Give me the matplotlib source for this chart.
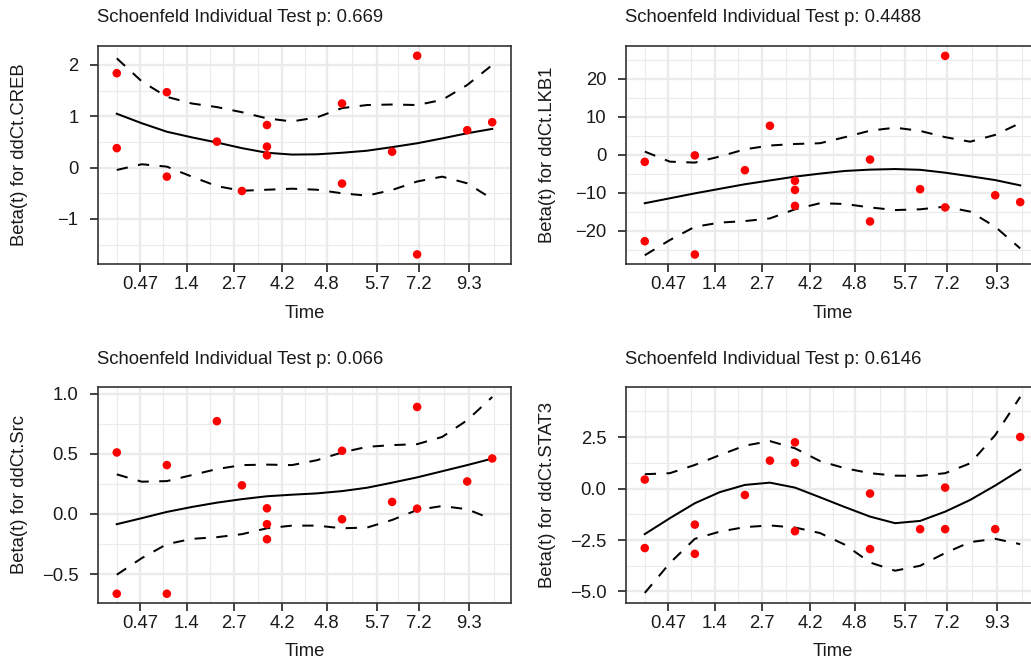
import matplotlib
matplotlib.use("Agg")
import matplotlib.pyplot as plt
from matplotlib.ticker import FixedLocator, FixedFormatter

plt.rcParams['font.family'] = ['Liberation Sans', 'DejaVu Sans']

# transformed event times (shared by all panels) and their labels
time_ticks = [1.94, 3.79, 5.69, 7.62, 9.39, 11.41, 13.07, 15.06]
time_labels = ['0.47', '1.4', '2.7', '4.2', '4.8', '5.7', '7.2', '9.3']
time_minor = [1.015, 2.865, 4.74, 6.655, 8.505, 10.4, 12.24, 14.065, 16.055]
pt_time = [1, 1, 3, 3, 5, 6, 7, 7, 7, 10, 10, 12, 13, 13, 15, 16]
fit_time = list(range(1, 17))

# ddCt.CREB
creb_pts = [1.84, 0.38, 1.47, -0.175, 0.507, -0.455, 0.83, 0.41, 0.24,
            1.25, -0.31, 0.31, 2.18, -1.69, 0.73, 0.885]
creb_fit = [1.05, 0.865, 0.70, 0.59, 0.49, 0.38, 0.29, 0.255, 0.26, 0.29,
            0.33, 0.40, 0.475, 0.57, 0.67, 0.755]
creb_hi = [2.13, 1.68, 1.38, 1.25, 1.18, 1.08, 0.96, 0.90, 0.98, 1.16,
           1.22, 1.23, 1.22, 1.32, 1.61, 2.0]
creb_lo = [-0.045, 0.066, 0.02, -0.175, -0.36, -0.45, -0.43, -0.41, -0.43,
           -0.5, -0.545, -0.435, -0.27, -0.175, -0.305, -0.61]

# ddCt.LKB1
lkb1_pts = [-1.9, -22.8, -0.2, -26.3, -4.1, 7.6, -6.9, -9.3, -13.5,
            -1.3, -17.6, -9.1, 26.0, -13.9, -10.7, -12.5]
lkb1_fit = [-12.8, -11.5, -10.2, -9.0, -7.8, -6.8, -5.8, -5.0, -4.3, -3.95,
            -3.8, -4.0, -4.75, -5.7, -6.7, -8.1]
lkb1_hi = [0.8, -1.85, -2.1, -0.5, 1.4, 2.4, 2.8, 3.0, 4.6, 6.3,
           7.1, 6.25, 4.6, 3.4, 5.2, 8.3]
lkb1_lo = [-26.5, -22.5, -19, -17.9, -17.5, -16.8, -14.4, -12.8, -13, -13.9,
           -14.6, -14.4, -13.7, -15, -19, -24.7]

# ddCt.Src
src_pts = [0.511, -0.663, 0.406, -0.663, 0.771, 0.238, 0.047, -0.085, -0.21,
           0.525, -0.044, 0.1, 0.889, 0.044, 0.27, 0.461]
src_fit = [-0.085, -0.035, 0.017, 0.058, 0.094, 0.123, 0.147, 0.16, 0.171,
           0.19, 0.218, 0.26, 0.304, 0.355, 0.406, 0.46]
src_hi = [0.329, 0.268, 0.273, 0.323, 0.373, 0.406, 0.41, 0.406, 0.447,
          0.511, 0.558, 0.572, 0.58, 0.64, 0.779, 0.972]
src_lo = [-0.505, -0.367, -0.251, -0.207, -0.193, -0.168, -0.119, -0.097,
          -0.097, -0.119, -0.113, -0.05, 0.033, 0.066, 0.039, -0.044]

# ddCt.STAT3
stat3_pts = [0.44, -2.89, -1.75, -3.17, -0.31, 1.36, 2.25, 1.26, -2.07,
             -0.24, -2.94, -1.97, 0.05, -1.97, -1.97, 2.51]
stat3_fit = [-2.21, -1.44, -0.71, -0.17, 0.18, 0.29, 0.05, -0.42, -0.90,
             -1.36, -1.68, -1.57, -1.12, -0.55, 0.15, 0.91]
stat3_hi = [0.70, 0.75, 1.15, 1.63, 2.09, 2.31, 1.96, 1.34, 0.99, 0.75,
            0.63, 0.62, 0.75, 1.23, 2.6, 4.46]
stat3_lo = [-5.07, -3.62, -2.44, -2.09, -1.87, -1.79, -1.89, -2.16, -2.73,
            -3.59, -3.99, -3.75, -3.13, -2.60, -2.44, -2.70]

panels = [
    ("ddCt.CREB", "0.669", creb_pts, creb_fit, creb_hi, creb_lo,
     (-1.877, 2.37), [-1, 0, 1, 2], ['\u22121', '0', '1', '2'], [-1.5, -0.5, 0.5, 1.5]),
    ("ddCt.LKB1", "0.4488", lkb1_pts, lkb1_fit, lkb1_hi, lkb1_lo,
     (-28.8, 28.6), [-20, -10, 0, 10, 20], ['\u221220', '\u221210', '0', '10', '20'],
     [-25, -15, -5, 5, 15, 25]),
    ("ddCt.Src", "0.066", src_pts, src_fit, src_hi, src_lo,
     (-0.74, 1.055), [-0.5, 0, 0.5, 1.0], ['\u22120.5', '0.0', '0.5', '1.0'],
     [-0.25, 0.25, 0.75]),
    ("ddCt.STAT3", "0.6146", stat3_pts, stat3_fit, stat3_hi, stat3_lo,
     (-5.56, 4.94), [-5, -2.5, 0, 2.5], ['\u22125.0', '\u22122.5', '0.0', '2.5'],
     [-3.75, -1.25, 1.25, 3.75]),
]

W, H = 1031, 665
fig = plt.figure(figsize=(W / 100, H / 100), dpi=100)
boxes = [(98, 46, 264), (626, 46, 264), (98, 387, 603), (626, 387, 603)]
FS = 13.3

for (left, top, bottom), p in zip(boxes, panels):
    name, pval, pts, fit, hi, lo, ylim, yt, ytl, ymin = p
    ax = fig.add_axes([left / W, 1 - bottom / H, 413 / W, (bottom - top) / H])
    ax.set_xlim(0.25, 16.75)
    ax.set_ylim(*ylim)

    ax.xaxis.set_major_locator(FixedLocator(time_ticks))
    ax.xaxis.set_major_formatter(FixedFormatter(time_labels))
    ax.xaxis.set_minor_locator(FixedLocator(time_minor))
    ax.yaxis.set_major_locator(FixedLocator(yt))
    ax.yaxis.set_major_formatter(FixedFormatter(ytl))
    ax.yaxis.set_minor_locator(FixedLocator(ymin))

    ax.grid(which='major', color='#EBEBEB', lw=1.7, zorder=0)
    ax.grid(which='minor', color='#EBEBEB', lw=0.85, zorder=0)
    ax.set_axisbelow(True)

    ax.plot(fit_time, fit, color='black', lw=1.45, zorder=3)
    ax.plot(fit_time, hi, color='black', lw=1.45, dashes=(5.6, 5.2), zorder=3)
    ax.plot(fit_time, lo, color='black', lw=1.45, dashes=(5.6, 5.2), zorder=3)
    ax.scatter(pt_time, pts, s=38, color='#FF0000', edgecolors='none', zorder=4)

    for s in ax.spines.values():
        s.set_color('#333333')
        s.set_linewidth(1.2)
    ax.tick_params(which='major', length=5.5, width=1.3, color='#333333',
                   labelsize=FS, labelcolor='#1A1A1A')
    ax.tick_params(which='minor', length=0)
    ax.tick_params(axis='x', pad=3)
    ax.tick_params(axis='y', pad=8.5)

    ax.set_xlabel('Time', fontsize=FS, color='#1A1A1A')
    ax.xaxis.set_label_coords(0.5, -0.225)
    ax.xaxis.label.set_va('center')
    ax.set_ylabel('Beta(t) for ' + name, fontsize=FS, color='#1A1A1A')
    ax.yaxis.set_label_coords(-0.19, 0.5)
    ax.yaxis.label.set_va('center')

    fig.text((left - 1) / W, 1 - (top - 23.5) / H,
             'Schoenfeld Individual Test p: ' + pval,
             fontsize=FS, color='#1A1A1A', ha='left', va='baseline')

fig.savefig('out.png', dpi=100)
